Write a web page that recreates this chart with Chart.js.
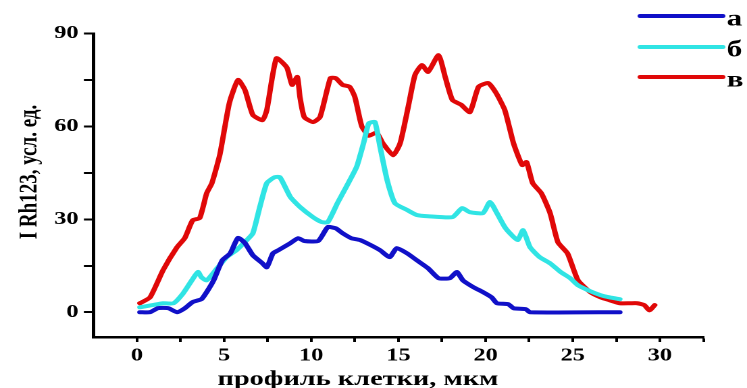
<!DOCTYPE html>
<html>
<head>
<meta charset="utf-8">
<script src="https://cdn.jsdelivr.net/npm/chart.js@4.4.1/dist/chart.umd.min.js"></script>
<style>
  html, body { margin: 0; padding: 0; background: #fff; overflow: hidden; }
  #wrap { width: 747px; height: 388px; position: relative; overflow: hidden; }
  /* the source figure is stretched sideways, so the canvas is too */
  #chart { position: absolute; left: 0; top: 0; transform-origin: 0 0; transform: scaleX(1.3508); }
</style>
</head>
<body>
<div id="wrap"><canvas id="chart" width="553" height="388"></canvas></div>
<script>
// series а (blue)
const aX = [0.17, 0.75, 1.2, 1.8, 2.3, 2.75, 3.2, 3.7, 4.0, 4.4, 4.9, 5.35, 5.8, 6.2, 6.65, 7.2, 7.45, 7.8, 8.1, 8.8, 9.25, 9.6, 10.4, 10.95, 11.4, 11.8, 12.3, 12.8, 13.4, 13.95, 14.5, 14.9, 15.5, 16.05, 16.7, 17.3, 17.95, 18.35, 18.7, 19.3, 19.85, 20.35, 20.65, 21.3, 21.6, 22.3, 22.55, 27.7];
const aY = [0, 0, 1.3, 1.3, 0, 1.3, 3.3, 4.2, 6.5, 10.3, 16.8, 19, 24, 22.3, 18.4, 15.8, 14.5, 19, 20, 22.3, 23.9, 23, 23, 27.5, 27.1, 25.5, 23.9, 23.3, 21.7, 20, 17.8, 20.7, 19, 16.8, 14.2, 11, 11, 13, 10.3, 8.1, 6.5, 4.8, 2.9, 2.6, 1.3, 1.0, 0, 0];

// series б (cyan)
const bX = [0.17, 0.9, 1.5, 2.1, 2.65, 3.15, 3.5, 3.7, 4.0, 4.6, 5.15, 5.7, 6.3, 6.65, 7.05, 7.45, 7.9, 8.2, 8.8, 9.35, 10.1, 10.6, 10.95, 11.5, 12.0, 12.6, 13.0, 13.3, 13.65, 13.95, 14.35, 14.8, 15.5, 16.05, 16.7, 18.1, 18.65, 19.1, 19.85, 20.25, 20.65, 21.1, 21.5, 21.85, 22.15, 22.55, 23.1, 23.7, 24.3, 24.85, 25.3, 26.0, 26.6, 27.1, 27.7];
const bY = [1.6, 2.3, 2.9, 2.9, 6.1, 10.3, 13, 11.3, 10.3, 14.2, 17.8, 20, 23.3, 25.5, 34, 41.7, 43.6, 43.6, 37.2, 34, 30.7, 29.1, 29.1, 35.2, 40.4, 46.9, 54.6, 61, 61.4, 53.3, 42.7, 35.2, 33, 31.4, 31, 30.7, 33.6, 32.3, 32, 35.6, 32, 27.5, 24.9, 23.3, 26.5, 21, 17.8, 15.8, 13, 11, 8.7, 6.8, 5.5, 4.8, 4.2];

// series в (red)
const vX = [0.17, 0.75, 1.5, 2.3, 2.75, 3.2, 3.6, 4.0, 4.3, 4.76, 5.3, 5.8, 6.2, 6.65, 7.2, 7.45, 8.0, 8.6, 8.9, 9.2, 9.35, 9.6, 10.1, 10.5, 11.1, 11.4, 11.8, 12.2, 12.5, 12.9, 13.3, 13.75, 14.1, 14.7, 15.1, 15.55, 15.95, 16.35, 16.7, 17.3, 17.7, 18.1, 18.6, 19.1, 19.6, 20.15, 20.6, 21.1, 21.6, 22.1, 22.35, 22.7, 23.2, 23.7, 24.15, 24.7, 25.3, 26.0, 26.6, 27.1, 27.7, 28.3, 28.7, 29.1, 29.4, 29.7];
const vY = [2.9, 4.8, 13.6, 21, 24, 29.7, 30.4, 38.4, 41.7, 51, 67.5, 75, 71.7, 63.7, 62, 65.3, 82, 79, 73.4, 76, 69.5, 63, 61.4, 63, 75.6, 75.6, 73.4, 72.8, 69.5, 60, 57, 58, 54.6, 50.7, 54.6, 66, 76.6, 79.8, 77.6, 83, 75.6, 68.5, 67, 64.6, 72.8, 74, 70.8, 65.3, 54.6, 47.5, 48.5, 41.7, 38.4, 32, 22.6, 19, 10.3, 6.5, 4.8, 3.9, 2.9, 2.9, 2.9, 2.3, 0.6, 2.3];

const seriesNames = ['а', 'б', 'в'];
const seriesColors = ['#1010c8', '#30e4e4', '#e00808'];

const xTicks = [0, 2.5, 5, 7.5, 10, 12.5, 15, 17.5, 20, 22.5, 25, 27.5, 30, 32.5];
const yTicks = [0, 15, 30, 45, 60, 75, 90];

const xTitle = 'профиль клетки, мкм';
const yTitle = 'I Rh123, усл. ед.';

const pts = (xs, ys) => xs.map((x, i) => ({ x: x, y: ys[i] }));

const serif = "'Liberation Serif', 'Times New Roman', serif";

// axis titles + legend placed by hand, like in the source figure
const labelsPlugin = {
    id: 'labels',
    afterDraw(chart) {
        const ctx = chart.ctx;
        ctx.save();
        ctx.fillStyle = '#000';
        ctx.font = 'bold 19px ' + serif;
        ctx.textAlign = 'center';
        ctx.textBaseline = 'middle';
        ctx.translate(22, 172);
        ctx.rotate(-Math.PI / 2);
        ctx.fillText(yTitle, 0, 0);
        ctx.restore();

        ctx.save();
        ctx.fillStyle = '#000';
        ctx.font = 'bold 21px ' + serif;
        ctx.textAlign = 'center';
        ctx.textBaseline = 'alphabetic';
        ctx.fillText(xTitle, 265, 385);
        ctx.restore();

        const rows = [16, 47, 77];
        ctx.save();
        ctx.lineWidth = 4;
        ctx.lineCap = 'round';
        ctx.font = 'bold 23px ' + serif;
        ctx.textAlign = 'left';
        ctx.textBaseline = 'alphabetic';
        seriesNames.forEach((name, i) => {
            ctx.strokeStyle = seriesColors[i];
            ctx.beginPath();
            ctx.moveTo(474, rows[i]);
            ctx.lineTo(535, rows[i]);
            ctx.stroke();
            ctx.fillStyle = '#000';
            ctx.fillText(name, 538, rows[i] + 9.5);
        });
        ctx.restore();
    }
};

new Chart(document.getElementById('chart'), {
    type: 'line',
    data: {
        datasets: [
            { label: seriesNames[0], data: pts(aX, aY), borderColor: seriesColors[0] },
            { label: seriesNames[1], data: pts(bX, bY), borderColor: seriesColors[1] },
            { label: seriesNames[2], data: pts(vX, vY), borderColor: seriesColors[2] }
        ]
    },
    options: {
        responsive: false,
        animation: false,
        devicePixelRatio: 2,
        layout: { padding: { top: 33.5, right: 32.2, left: 0, bottom: 0 } },
        elements: {
            line: { borderWidth: 4, tension: 0.18, borderJoinStyle: 'round', borderCapStyle: 'round', fill: false },
            point: { radius: 0, hoverRadius: 0 }
        },
        plugins: { legend: { display: false }, tooltip: { enabled: false } },
        scales: {
            x: {
                type: 'linear',
                min: -2.5,
                max: 32.5,
                afterBuildTicks: s => { s.ticks = xTicks.map(v => ({ value: v })); },
                afterFit: s => { s.height = 51; },
                border: { display: true, color: '#000', width: 2.5 },
                grid: { drawOnChartArea: false, drawTicks: true, tickLength: 5, tickColor: '#000', tickWidth: 2 },
                ticks: {
                    color: '#000',
                    padding: 3,
                    maxRotation: 0,
                    autoSkip: false,
                    font: { family: serif, size: 18, weight: 'bold' },
                    callback: v => (v % 5 === 0 ? String(v) : '')
                }
            },
            y: {
                min: -8,
                max: 90,
                afterBuildTicks: s => { s.ticks = yTicks.map(v => ({ value: v })); },
                afterFit: s => { s.width = 69.1; },
                border: { display: true, color: '#000', width: 2.5 },
                grid: { drawOnChartArea: false, drawTicks: true, tickLength: 7, tickColor: '#000', tickWidth: 2 },
                ticks: {
                    color: '#000',
                    padding: 4,
                    autoSkip: false,
                    font: { family: serif, size: 18, weight: 'bold' },
                    callback: v => (v % 30 === 0 ? String(v) : '')
                }
            }
        }
    },
    plugins: [labelsPlugin]
});
</script>
</body>
</html>
